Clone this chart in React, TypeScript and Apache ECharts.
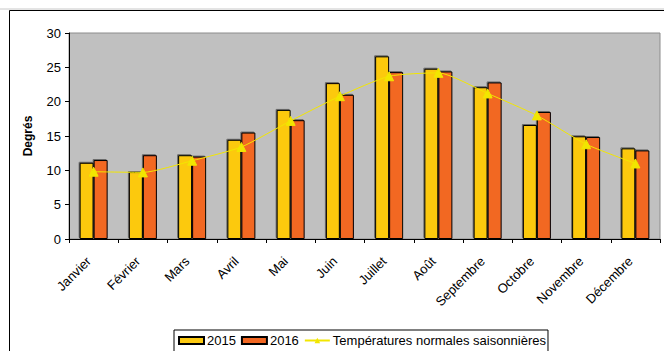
import React, { useEffect, useRef } from "react";
import * as echarts from "echarts";

const months = ["Janvier", "Février", "Mars", "Avril", "Mai", "Juin", "Juillet", "Août", "Septembre", "Octobre", "Novembre", "Décembre"];
const temps2015 = [11.1, 9.75, 12.2, 14.45, 18.8, 22.7, 26.6, 24.8, 22.1, 16.6, 14.95, 13.2];
const temps2016 = [11.5, 12.2, 12.0, 15.5, 17.3, 21.0, 24.3, 24.4, 22.8, 18.5, 14.85, 12.9];
const normales = [9.8, 9.7, 11.4, 13.4, 17.2, 20.8, 23.7, 24.2, 21.2, 18.0, 13.8, 11.0];

const FONT = "Liberation Sans, Arial, sans-serif";

export default function App() {
  const ref = useRef<HTMLDivElement>(null);
  useEffect(() => {
    if (!ref.current) return;
    const chart = echarts.init(ref.current, null, { renderer: "svg" });
    const barStyle = (color: string) => ({
      color,
      borderColor: "#000",
      borderWidth: 1,
      shadowColor: "rgba(0,0,0,0.45)",
      shadowOffsetX: -1,
      shadowOffsetY: -1,
      shadowBlur: 1,
    });
    chart.setOption({
      animation: false,
      backgroundColor: "#fff",
      textStyle: { fontFamily: FONT },
      graphic: [
        { type: "line", shape: { x1: 0, y1: 9, x2: 664, y2: 9 }, style: { stroke: "#c8c8c8", lineWidth: 1 } },
        { type: "rect", shape: { x: 9.5, y: 10.5, width: 700, height: 400 }, style: { fill: "none", stroke: "#000", lineWidth: 1 } },
      ],
      grid: {
        left: 69,
        top: 33,
        right: 4,
        bottom: 112,
        show: true,
        backgroundColor: "#C0C0C0",
        borderColor: "#8c8c8c",
        borderWidth: 1,
      },
      legend: {
        left: 174,
        top: 330,
        backgroundColor: "#fff",
        borderColor: "#000",
        borderWidth: 1,
        padding: [4, 2, 6, 4],
        itemGap: 5,
        itemWidth: 25,
        itemHeight: 7,
        textStyle: { fontFamily: FONT, fontSize: 13, color: "#000", padding: [0, 0, 0, -2] },
        data: [
          { name: "2015", icon: "rect" },
          { name: "2016", icon: "rect" },
          { name: "Températures normales saisonnières" },
        ],
      },
      xAxis: {
        type: "category",
        data: months,
        boundaryGap: true,
        axisLine: { lineStyle: { color: "#000", width: 1 } },
        axisTick: { show: true, length: 4, lineStyle: { color: "#000" } },
        axisLabel: {
          rotate: 45,
          interval: 0,
          fontSize: 13,
          color: "#000",
          fontFamily: FONT,
          margin: 15,
          padding: [0, 7, 0, 0],
        },
      },
      yAxis: {
        type: "value",
        min: 0,
        max: 30,
        interval: 5,
        name: "Degrés",
        nameLocation: "middle",
        nameGap: 35,
        nameTextStyle: { fontWeight: "bold", fontSize: 12, color: "#000", fontFamily: FONT },
        axisLine: { show: true, lineStyle: { color: "#000", width: 1 } },
        axisTick: { show: true, length: 4, lineStyle: { color: "#000" } },
        axisLabel: { fontSize: 13, color: "#000", margin: 8, fontFamily: FONT },
        splitLine: { show: false },
      },
      series: [
        {
          name: "2015",
          type: "bar",
          data: temps2015,
          barWidth: 14,
          barGap: "0%",
          itemStyle: barStyle("#FCC911"),
        },
        {
          name: "2016",
          type: "bar",
          data: temps2016,
          barWidth: 14,
          barGap: "0%",
          itemStyle: barStyle("#F26722"),
        },
        {
          name: "Températures normales saisonnières",
          type: "line",
          data: normales,
          smooth: 0.2,
          symbol: "triangle",
          symbolSize: 9,
          lineStyle: { color: "#F2E600", width: 1 },
          itemStyle: { color: "#F2E600", borderColor: "#F2E600" },
          z: 5,
        },
      ],
    });
    return () => chart.dispose();
  }, []);
  return <div ref={ref} style={{ position: "fixed", left: 0, top: 0, width: 664, height: 351 }} />;
}
